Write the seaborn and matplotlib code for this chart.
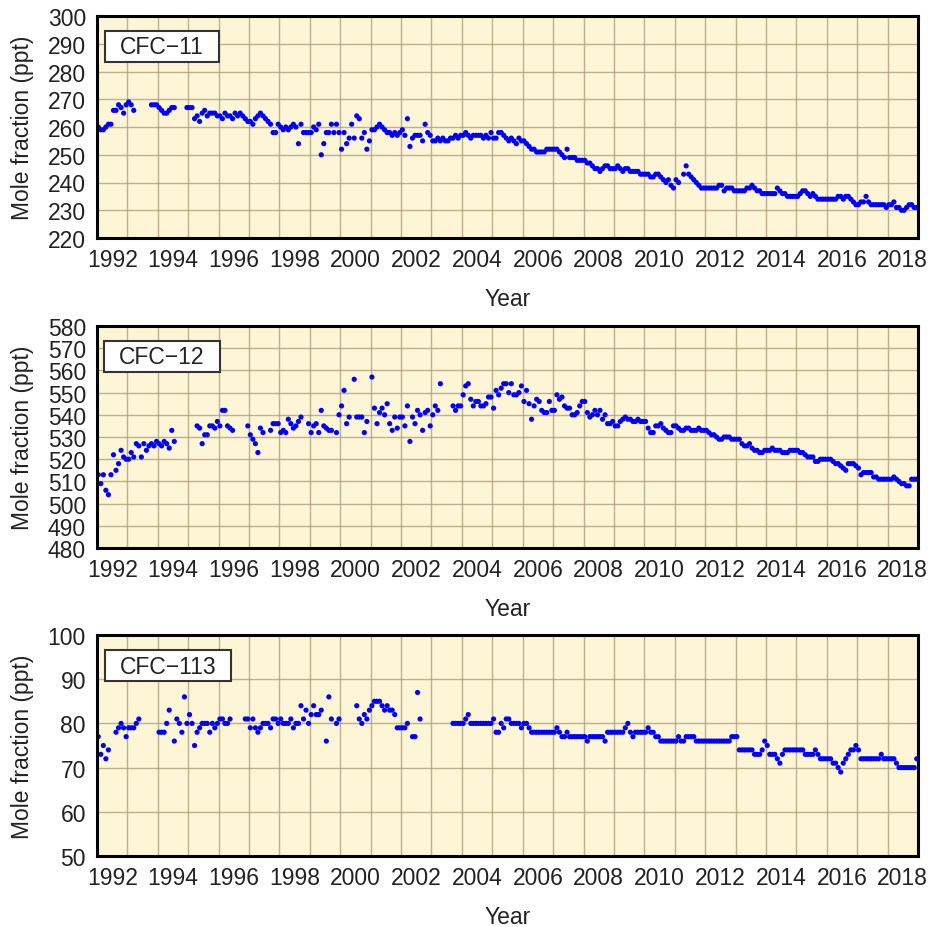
import numpy as np
import pandas as pd
import matplotlib
matplotlib.use("Agg")
import matplotlib.pyplot as plt
from matplotlib.patches import Rectangle
import seaborn as sns

N = None
start_year = 1992
end_year = 2019

# Monthly mole fractions (ppt), one row per year 1992..2018, None = no data
cfc11 = [
    260, 259, 259, 260, 261, 261, 266, 266, 268, 267, 265, 268,  # 1992
    269, 268, 266, N, N, N, N, N, N, 268, 268, 268,              # 1993
    267, 266, 265, 265, 266, 267, 267, N, N, N, N, 267,          # 1994
    267, 267, 263, 264, 262, 265, 266, 264, 265, 265, 265, 264,  # 1995
    264, 263, 265, 264, 264, 263, 265, 264, 265, 264, 263, 262,  # 1996
    262, 261, 263, 264, 265, 264, 263, 262, 261, 258, 258, 261,  # 1997
    260, 259, 260, 259, 260, 261, 260, 254, 261, 258, 258, 258,  # 1998
    258, 260, 259, 261, 250, 254, 258, 258, 261, 258, 261, 258,  # 1999
    252, 258, 254, 256, 261, 256, 264, 263, 256, 258, 252, 255,  # 2000
    259, 259, 260, 261, 260, 259, 258, 258, 257, 258, 257, 258,  # 2001
    259, 257, 263, 253, 256, 257, 257, 257, 255, 261, 258, 257,  # 2002
    255, 255, 256, 255, 256, 255, 255, 256, 256, 257, 256, 257,  # 2003
    257, 258, 257, 256, 257, 257, 257, 257, 256, 257, 256, 258,  # 2004
    256, 256, 258, 258, 257, 256, 255, 256, 255, 254, 256, 255,  # 2005
    255, 254, 253, 252, 252, 251, 251, 251, 251, 252, 252, 252,  # 2006
    252, 252, 251, 250, 249, 252, 249, 249, 249, 248, 248, 248,  # 2007
    248, 247, 247, 246, 245, 245, 244, 245, 246, 246, 245, 245,  # 2008
    245, 246, 245, 244, 245, 245, 244, 244, 244, 244, 243, 243,  # 2009
    243, 243, 242, 242, 243, 243, 242, 241, 240, 241, 239, 238,  # 2010
    241, 240, N, 243, 246, 243, 242, 241, 240, 239, 238, 238,    # 2011
    238, 238, 238, 238, 238, 239, 239, 237, 238, 238, 238, 237,  # 2012
    237, 237, 237, 237, 238, 238, 239, 238, 237, 237, 236, 236,  # 2013
    236, 236, 236, 236, 238, 237, 236, 236, 235, 235, 235, 235,  # 2014
    235, 236, 237, 237, 236, 235, 236, 235, 234, 234, 234, 234,  # 2015
    234, 234, 234, 234, 235, 235, 234, 235, 235, 234, 233, 232,  # 2016
    232, 233, 233, 235, 233, 232, 232, 232, 232, 232, 232, 231,  # 2017
    232, 232, 233, 231, 231, 230, 230, 231, 232, 232, 231, 231,  # 2018
]

cfc12 = [
    513, 509, 513, 506, 504, 513, 522, 515, 518, 524, 521, 520,  # 1992
    520, 523, 521, 527, 526, 521, 527, 524, 526, 527, 526, 528,  # 1993
    527, 526, 528, 527, 525, 533, 528, N, N, N, N, N,            # 1994
    N, N, N, 535, 534, 527, 531, 531, 535, 535, 534, 537,        # 1995
    535, 542, 542, 535, 534, 533, N, N, N, N, N, 535,            # 1996
    531, 529, 527, 523, 534, 532, N, N, 533, 536, 536, 536,      # 1997
    532, 533, 532, 538, 536, 534, 535, 537, 539, N, N, 536,      # 1998
    532, 535, 536, 532, 542, 535, 534, 533, 533, N, 532, 540,    # 1999
    544, 551, 536, 539, N, 556, 539, 539, 539, 532, 537, N,      # 2000
    557, 543, 536, 541, 543, 540, 545, 536, 533, 539, 534, 539,  # 2001
    539, 535, 544, 528, 539, 536, 542, 540, 533, 541, 542, 535,  # 2002
    540, 544, 542, 554, N, N, N, N, 544, 542, 544, 544,          # 2003
    549, 553, 554, 547, 544, 546, 546, 544, 544, 545, 548, 548,  # 2004
    543, 551, 549, 552, 554, 554, 550, 554, 549, 549, 550, 553,  # 2005
    546, 551, 545, 538, 544, 547, 546, 542, 541, 541, 546, 542,  # 2006
    542, 549, 547, 548, 544, 543, 543, 540, 540, 541, 544, 546,  # 2007
    546, 541, 539, 540, 542, 540, 542, 538, 540, 536, 536, 537,  # 2008
    535, 535, 537, 538, 539, 538, 538, 537, 537, 538, 537, 537,  # 2009
    537, 534, 532, 532, 535, 535, 536, 534, 533, 532, 532, 535,  # 2010
    535, 534, 533, 533, 534, 534, 533, 533, 533, 534, 533, 533,  # 2011
    533, 532, 531, 531, 530, 529, 529, 530, 530, 530, 529, 529,  # 2012
    529, 529, 527, 526, 526, 527, 525, 524, 524, 523, 523, 524,  # 2013
    524, 524, 525, 524, 524, 524, 523, 523, 523, 524, 524, 524,  # 2014
    524, 523, 523, 522, 521, 521, 521, 519, 519, 520, 520, 520,  # 2015
    520, 520, 519, 518, 518, 517, 516, 515, 518, 518, 518, 517,  # 2016
    516, 513, 514, 514, 514, 514, 512, 512, 511, 511, 511, 511,  # 2017
    511, 511, 512, 511, 510, 509, 509, 508, 508, 511, 511, 511,  # 2018
]

cfc113 = [
    77, 73, 75, 72, 74, N, N, 78, 79, 80, 79, 77,   # 1992
    79, 79, 79, 80, 81, N, N, N, N, N, N, N,        # 1993
    78, 78, 78, 80, 83, N, 76, 81, 80, 78, 86, 80,  # 1994
    82, 80, 75, 78, 79, 80, 80, 80, 78, 80, 79, 80, # 1995
    81, 81, 80, 80, 81, N, N, N, N, N, 81, 81,      # 1996
    79, 81, 79, 78, 79, 80, 80, 80, 79, 81, 81, 80, # 1997
    81, 80, 80, 80, 81, 79, 80, 80, 84, 81, 83, 80, # 1998
    82, 84, 82, 82, 83, N, 76, 86, 81, N, 80, 81,   # 1999
    N, N, N, N, N, N, 84, 81, 80, 82, 81, 83,       # 2000
    84, 85, 85, 85, 84, 83, 84, 83, 83, 82, 79, 79, # 2001
    79, 79, 80, N, 77, 77, 87, 81, N, N, N, N,      # 2002
    N, N, N, N, N, N, N, N, 80, 80, 80, 80,         # 2003
    80, 81, 82, 80, 80, 80, 80, 80, 80, 80, 80, 80, # 2004
    81, 78, 78, 80, 79, 81, 81, 80, 80, 80, 80, 79, # 2005
    80, 80, 79, 78, 78, 78, 78, 78, 78, 78, 78, 78, # 2006
    78, 79, 78, 77, 77, 78, 77, 77, 77, 77, 77, 77, # 2007
    77, 76, 77, 77, 77, 77, 77, 77, 76, 78, 78, 78, # 2008
    78, 78, 78, 78, 79, 80, 78, 77, 78, 78, 78, 78, # 2009
    78, 79, 78, 78, 77, 77, 76, 76, 76, 76, 76, 76, # 2010
    76, 77, 76, 76, 77, 77, 77, 77, 76, 76, 76, 76, # 2011
    76, 76, 76, 76, 76, 76, 76, 76, 76, 76, 77, 77, # 2012
    77, 74, 74, 74, 74, 74, 74, 73, 73, 73, 74, 76, # 2013
    75, 73, 73, 73, 72, 71, 73, 74, 74, 74, 74, 74, # 2014
    74, 74, 74, 73, 73, 73, 73, 74, 73, 72, 72, 72, # 2015
    72, 72, 71, 71, 70, 69, 71, 72, 73, 74, 74, 75, # 2016
    74, 72, 72, 72, 72, 72, 72, 72, 72, 73, 72, 72, # 2017
    72, 72, 72, 71, 70, 70, 70, 70, 70, 70, 70, 72, # 2018
]

panel_names = ["CFC\u221211", "CFC\u221212", "CFC\u2212113"]
panel_series = [cfc11, cfc12, cfc113]
panel_ylims = [(220, 300), (480, 580), (50, 100)]
tick_years = list(range(1992, 2019, 2))
tick_labels = [str(y) for y in tick_years]

sns.set_style("ticks")
plt.rcParams["font.family"] = ["Liberation Sans", "DejaVu Sans"]

fig = plt.figure(figsize=(9.33, 9.28), dpi=100)
W, H = 933, 928
boxes = [(97, 17, 918, 239), (97, 327, 918, 549), (97, 636, 918, 857)]

bg = "#FCF5D6"
grid_c = "#A89A78"
txt_c = "#222222"
FS = 16.5

for (l, t, r, b), name, series, ylim in zip(boxes, panel_names, panel_series, panel_ylims):
    ax = fig.add_axes([l / W, 1 - b / H, (r - l) / W, (b - t) / H])
    n = len(series)
    df = pd.DataFrame({
        "year": start_year + (np.arange(n) + 0.5) / 12.0,
        "value": np.array(series, dtype=float),
    }).dropna()
    ax.set_facecolor(bg)
    sns.scatterplot(data=df, x="year", y="value", ax=ax, color="#0000FF",
                    s=14, edgecolor="none", linewidth=0, zorder=3, legend=False)
    ax.set_xlim(start_year, end_year)
    ax.set_ylim(*ylim)
    ax.set_xticks([y + 0.5 for y in tick_years])
    ax.set_xticklabels(tick_labels)
    ax.set_xticks(list(range(start_year + 1, end_year)), minor=True)
    ax.set_yticks(list(range(ylim[0], ylim[1] + 1, 10)))
    ax.grid(False)
    ax.grid(True, which="minor", axis="x", color=grid_c, lw=1.0, alpha=0.75, zorder=1)
    ax.grid(True, which="major", axis="y", color=grid_c, lw=1.0, alpha=0.75, zorder=1)
    ax.set_axisbelow(True)
    ax.tick_params(axis="both", which="both", length=0, labelsize=FS, colors=txt_c)
    ax.tick_params(axis="x", which="major", pad=7)
    ax.tick_params(axis="y", which="major", pad=8)
    for sp in ax.spines.values():
        sp.set_visible(True)
        sp.set_color("black")
        sp.set_linewidth(2.2)
        sp.set_zorder(5)
    ax.set_xlabel("Year", fontsize=FS, labelpad=12, color=txt_c)
    ax.set_ylabel("Mole fraction (ppt)", fontsize=FS, labelpad=10, color=txt_c)

    # label box
    ah = b - t
    aw = r - l
    txt = ax.text((162 - l + (6 if "113" in name else 0)) / aw, 1 - 31 / ah, name,
                  transform=ax.transAxes, ha="center", va="center",
                  fontsize=FS, color=txt_c, zorder=7)
    fig.canvas.draw()
    bb = txt.get_window_extent()
    tw = bb.width
    bw = tw + 30
    cx = (bb.x0 + bb.x1) / 2
    ax_bb = ax.get_window_extent()
    rx = (cx - bw / 2 - ax_bb.x0) / ax_bb.width
    rect = Rectangle((rx, 1 - 46 / ah), bw / ax_bb.width, 31 / ah,
                     transform=ax.transAxes, facecolor="white",
                     edgecolor="#333333", lw=1.5, zorder=6)
    ax.add_patch(rect)

fig.savefig("out.png", dpi=100)
